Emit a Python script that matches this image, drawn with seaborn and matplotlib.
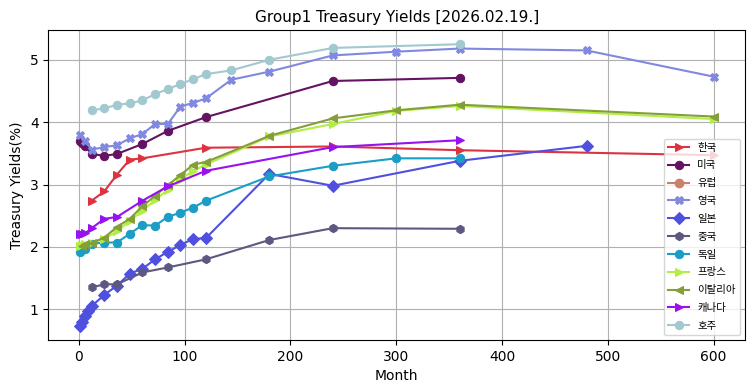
import matplotlib
matplotlib.use('Agg')
import matplotlib.pyplot as plt
import seaborn as sns
import pandas as pd

# yields (x = maturity in months, y = yield %)
kr_month = [12, 24, 36, 48, 60, 120, 240, 360, 600]
kr_yield = [2.74, 2.89, 3.16, 3.40, 3.42, 3.59, 3.61, 3.55, 3.47]

us_month = [1, 3, 6, 12, 24, 36, 60, 84, 120, 240, 360]
us_yield = [3.70, 3.66, 3.61, 3.49, 3.46, 3.49, 3.65, 3.86, 4.08, 4.66, 4.71]

eu_month = []
eu_yield = []

uk_month = [1, 6, 12, 24, 36, 48, 60, 72, 84, 96, 108, 120, 144, 180, 240, 300, 360, 480, 600]
uk_yield = [3.80, 3.70, 3.56, 3.60, 3.63, 3.74, 3.81, 3.97, 3.97, 4.25, 4.31, 4.38, 4.68,
            4.81, 5.07, 5.13, 5.18, 5.15, 4.73]

jp_month = [1, 3, 6, 9, 12, 24, 36, 48, 60, 72, 84, 96, 108, 120, 180, 240, 360, 480]
jp_yield = [0.73, 0.80, 0.89, 0.97, 1.05, 1.23, 1.38, 1.57, 1.65, 1.80, 1.92, 2.03, 2.13,
            2.14, 3.17, 2.98, 3.38, 3.62]

cn_month = [12, 24, 36, 60, 84, 120, 180, 240, 360]
cn_yield = [1.35, 1.40, 1.40, 1.59, 1.67, 1.80, 2.11, 2.30, 2.29]

de_month = [1, 6, 12, 24, 36, 48, 60, 72, 84, 96, 108, 120, 180, 240, 300, 360]
de_yield = [1.92, 1.97, 2.05, 2.07, 2.07, 2.21, 2.35, 2.34, 2.48, 2.55, 2.63, 2.74,
            3.13, 3.30, 3.42, 3.42]

fr_month = [1, 3, 6, 12, 24, 36, 48, 60, 72, 84, 96, 108, 120, 180, 240, 300, 360, 600]
fr_yield = [2.02, 2.03, 2.04, 2.06, 2.13, 2.25, 2.42, 2.58, 2.75, 2.92, 3.08, 3.22, 3.32,
            3.77, 3.97, 4.18, 4.26, 4.05]

it_month = [3, 6, 12, 24, 36, 48, 60, 72, 84, 96, 108, 120, 180, 240, 300, 360, 600]
it_yield = [2.02, 2.04, 2.06, 2.15, 2.32, 2.45, 2.65, 2.82, 2.99, 3.15, 3.32, 3.36,
            3.78, 4.06, 4.19, 4.28, 4.09]

ca_month = [1, 3, 6, 12, 24, 36, 60, 84, 120, 240, 360]
ca_yield = [2.21, 2.20, 2.22, 2.30, 2.45, 2.48, 2.74, 2.97, 3.22, 3.60, 3.71]

au_month = [12, 24, 36, 48, 60, 72, 84, 96, 108, 120, 144, 180, 240, 360]
au_yield = [4.19, 4.22, 4.28, 4.30, 4.35, 4.45, 4.53, 4.61, 4.69, 4.77, 4.83, 5.00, 5.19, 5.25]

countries = ['한국', '미국', '유럽', '영국', '일본', '중국', '독일', '프랑스', '이탈리아', '캐나다', '호주']
months = [kr_month, us_month, eu_month, uk_month, jp_month, cn_month, de_month,
          fr_month, it_month, ca_month, au_month]
yields = [kr_yield, us_yield, eu_yield, uk_yield, jp_yield, cn_yield, de_yield,
          fr_yield, it_yield, ca_yield, au_yield]

colors = ['#dc3340', '#641262', '#c8826c', '#8088e0', '#5050e0', '#5c5882',
          '#1a9ec6', '#b2ee44', '#849e3a', '#9812ee', '#a2c8d0']
marks = ['>', 'o', 'o', 'X', 'D', 'h', 'o', '>', '<', '>', 'o']

plt.rcParams['font.family'] = ['DejaVu Sans', 'Noto Sans CJK KR']
plt.rcParams['axes.unicode_minus'] = False

fig, ax = plt.subplots(figsize=(7.55, 3.91), dpi=100)
ax.grid(True, color='#b0b0b0', linewidth=0.8)
ax.set_axisbelow(True)

for name, m, y, c, mk in zip(countries, months, yields, colors, marks):
    if len(m) == 0:
        # no points for this one, only the legend entry
        ax.plot([], [], color=c, marker=mk, label=name)
        continue
    df = pd.DataFrame({'Month': m, 'Yield': y})
    sns.lineplot(data=df, x='Month', y='Yield', color=c, marker=mk, markersize=6,
                 markeredgecolor=c, linewidth=1.5, label=name, ax=ax)

ax.set_title('Group1 Treasury Yields [2026.02.19.]', fontsize=11)
ax.set_xlabel('Month')
ax.set_ylabel('Treasury Yields(%)')
ax.legend(loc='lower right', fontsize=7.5, labelspacing=0.75)

fig.subplots_adjust(left=0.064, right=0.987, top=0.923, bottom=0.13)
plt.savefig('out.png', dpi=100)
